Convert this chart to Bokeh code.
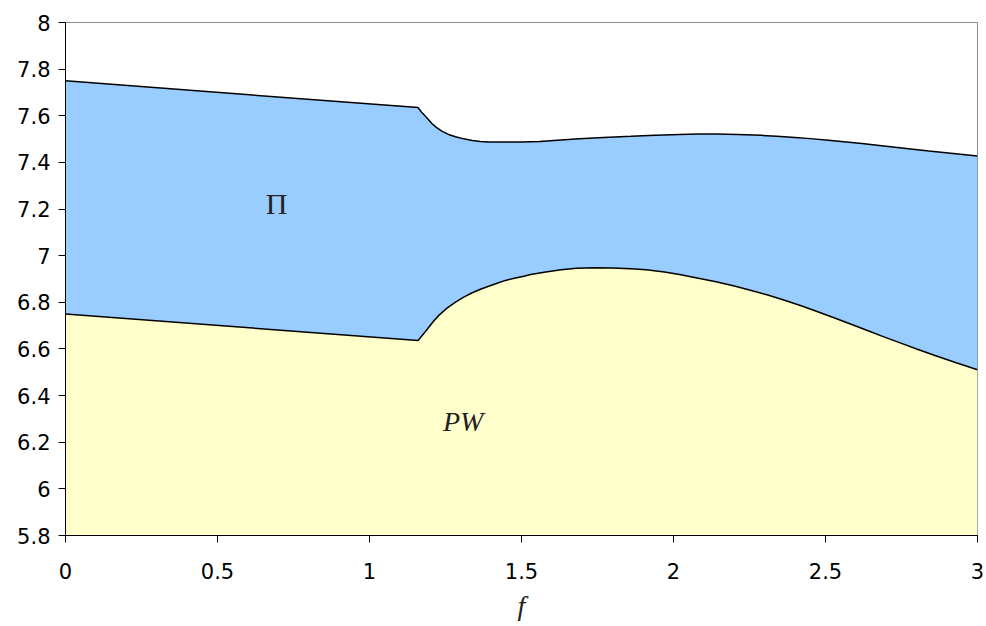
from bokeh.plotting import figure
from bokeh.models import Range1d, FixedTicker, Label
from bokeh.embed import file_html
from bokeh.resources import INLINE

# ---- data ----
f_upper = [0.0, 1.16, 1.17, 1.184, 1.195, 1.206, 1.22, 1.239, 1.26, 1.283, 1.31, 1.338,
           1.365, 1.392, 1.44, 1.50, 1.56, 1.63, 1.69, 1.77, 1.86, 1.94, 2.02, 2.08,
           2.14, 2.21, 2.29, 2.34, 2.40, 2.45, 2.51, 2.56, 2.62, 2.67, 2.73, 2.78,
           2.84, 2.92, 3.0]
y_upper = [7.750, 7.635, 7.617, 7.598, 7.582, 7.566, 7.550, 7.533, 7.520, 7.510, 7.501,
           7.494, 7.490, 7.488, 7.487, 7.487, 7.490, 7.496, 7.501, 7.507, 7.512, 7.517,
           7.520, 7.522, 7.522, 7.520, 7.516, 7.512, 7.507, 7.502, 7.495, 7.489, 7.481,
           7.474, 7.465, 7.458, 7.449, 7.438, 7.427]

f_lower = [0.0, 1.16, 1.18, 1.195, 1.21, 1.228, 1.255, 1.283, 1.31, 1.338, 1.365, 1.392,
           1.42, 1.447, 1.48, 1.508, 1.53, 1.58, 1.63, 1.68, 1.74, 1.80, 1.86, 1.91,
           1.97, 2.02, 2.09, 2.14, 2.20, 2.25, 2.31, 2.36, 2.42, 2.47, 2.53, 2.58,
           2.64, 2.69, 2.75, 2.80, 2.86, 2.93, 3.0]
y_lower = [6.750, 6.636, 6.668, 6.693, 6.718, 6.744, 6.775, 6.801, 6.822, 6.841, 6.856,
           6.869, 6.882, 6.894, 6.904, 6.912, 6.919, 6.930, 6.940, 6.946, 6.948, 6.947,
           6.944, 6.940, 6.930, 6.919, 6.901, 6.888, 6.870, 6.853, 6.831, 6.811, 6.785,
           6.762, 6.733, 6.708, 6.678, 6.653, 6.624, 6.600, 6.572, 6.541, 6.511]

x_ticks = [0, 0.5, 1, 1.5, 2, 2.5, 3]
x_tick_labels = ["0", "0.5", "1", "1.5", "2", "2.5", "3"]
y_ticks = [5.8, 6.0, 6.2, 6.4, 6.6, 6.8, 7.0, 7.2, 7.4, 7.6, 7.8, 8.0]
y_tick_labels = ["5.8", "6", "6.2", "6.4", "6.6", "6.8", "7", "7.2", "7.4", "7.6", "7.8", "8"]

region_labels = ["\u03a0", "PW"]

X_MIN, X_MAX = 0, 3
Y_MIN, Y_MAX = 5.8, 8

p = figure(width=986, height=626, output_backend="svg", toolbar_location=None,
           x_range=Range1d(X_MIN, X_MAX), y_range=Range1d(Y_MIN, Y_MAX),
           min_border_left=65, min_border_right=9, min_border_top=22, min_border_bottom=91)

p.background_fill_color = "white"
p.border_fill_color = "white"
p.outline_line_color = "#8c8c8c"
p.outline_line_width = 1
p.xgrid.visible = False
p.ygrid.visible = False

# yellow region (PW): from bottom to lower curve
p.patch(f_lower + [f_lower[-1], f_lower[0]], y_lower + [Y_MIN, Y_MIN],
        fill_color="#FFFFCC", line_color=None)
# blue region (Pi): between lower and upper curves
p.patch(f_upper + f_lower[::-1], y_upper + y_lower[::-1],
        fill_color="#99CCFF", line_color=None)

p.line(f_upper, y_upper, line_color="black", line_width=1.5)
p.line(f_lower, y_lower, line_color="black", line_width=1.5)

p.add_layout(Label(x=0.694, y=7.222, text=region_labels[0], text_font="Liberation Serif",
                   text_font_size="30px", text_align="center", text_baseline="middle",
                   text_color="#222222"))
p.add_layout(Label(x=1.308, y=6.289, text=region_labels[1], text_font="Liberation Serif",
                   text_font_style="italic", text_font_size="28px", text_align="center",
                   text_baseline="middle", text_color="#222222"))

for ax, ticks, labels in ((p.xaxis[0], x_ticks, x_tick_labels), (p.yaxis[0], y_ticks, y_tick_labels)):
    ax.ticker = FixedTicker(ticks=ticks)
    ax.major_label_overrides = {t: l for t, l in zip(ticks, labels)}
    ax.axis_line_color = "black"
    ax.axis_line_width = 1
    ax.major_tick_line_color = "black"
    ax.major_tick_in = 0
    ax.major_tick_out = 7
    ax.minor_tick_line_color = None
    ax.major_label_text_font = "DejaVu Sans"
    ax.major_label_text_font_size = "21px"
    ax.major_label_text_color = "black"

p.yaxis.major_label_standoff = 8
p.xaxis.major_label_standoff = 20
p.xaxis.axis_label = "f"
p.xaxis.axis_label_text_font = "Liberation Serif"
p.xaxis.axis_label_text_font_style = "italic"
p.xaxis.axis_label_text_font_size = "28px"
p.xaxis.axis_label_text_color = "#222222"
p.xaxis.axis_label_standoff = 8

open("out.html", "w").write(file_html(p, INLINE))
